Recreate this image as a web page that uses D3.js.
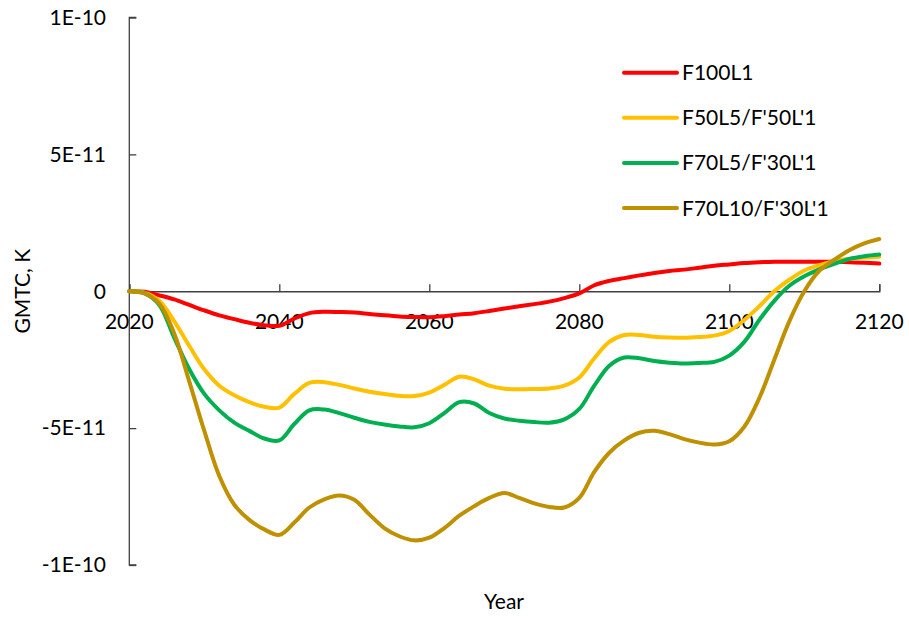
<!DOCTYPE html>
<html><head><meta charset="utf-8">
<script src="https://cdn.jsdelivr.net/npm/d3@7"></script>
<style>body{margin:0;background:#fff}svg{display:block}text{font-family:Lato,"Liberation Sans",sans-serif;fill:#000}</style>
</head><body><svg id="c" width="909" height="617"></svg>
<script>
const years = [2020,2022,2024,2026,2028,2030,2032,2034,2036,2038,2040,2042,2044,2046,2048,2050,2052,2054,2056,2058,2060,2062,2064,2066,2068,2070,2072,2074,2076,2078,2080,2082,2084,2086,2088,2090,2092,2094,2096,2098,2100,2102,2104,2106,2108,2110,2112,2114,2116,2118,2120];
// values in units of 1E-11 K
const f100l1 = [0,-0.02,-0.15,-0.3,-0.5,-0.7,-0.88,-1.02,-1.15,-1.24,-1.26,-1.0,-0.8,-0.75,-0.76,-0.78,-0.83,-0.88,-0.92,-0.94,-0.95,-0.91,-0.85,-0.8,-0.72,-0.63,-0.55,-0.47,-0.38,-0.25,-0.08,0.22,0.38,0.48,0.58,0.67,0.74,0.79,0.86,0.93,0.98,1.03,1.06,1.08,1.08,1.08,1.08,1.08,1.06,1.04,1.01];
const f50l5 = [0,-0.05,-0.35,-1.1,-2.0,-2.85,-3.45,-3.8,-4.05,-4.22,-4.25,-3.75,-3.35,-3.32,-3.42,-3.55,-3.67,-3.75,-3.82,-3.83,-3.7,-3.42,-3.12,-3.22,-3.45,-3.56,-3.58,-3.57,-3.55,-3.45,-3.15,-2.45,-1.85,-1.6,-1.6,-1.66,-1.69,-1.70,-1.67,-1.62,-1.45,-1.05,-0.55,0.0,0.42,0.76,0.95,1.10,1.18,1.23,1.26];
const f70l5 = [0,-0.07,-0.5,-1.7,-2.85,-3.75,-4.35,-4.8,-5.1,-5.38,-5.45,-4.85,-4.35,-4.32,-4.45,-4.62,-4.77,-4.87,-4.94,-4.97,-4.82,-4.45,-4.05,-4.1,-4.45,-4.65,-4.73,-4.78,-4.8,-4.68,-4.3,-3.45,-2.72,-2.42,-2.45,-2.55,-2.61,-2.64,-2.62,-2.58,-2.35,-1.85,-1.05,-0.35,0.2,0.55,0.8,1.0,1.18,1.28,1.34];
const f70l10 = [0,-0.08,-0.45,-1.55,-3.3,-5.1,-6.75,-7.8,-8.35,-8.7,-8.9,-8.45,-7.9,-7.6,-7.46,-7.62,-8.15,-8.65,-8.95,-9.1,-9.0,-8.65,-8.2,-7.85,-7.55,-7.37,-7.55,-7.75,-7.88,-7.9,-7.55,-6.6,-5.9,-5.45,-5.17,-5.1,-5.22,-5.4,-5.53,-5.6,-5.48,-4.95,-3.9,-2.5,-1.1,0.0,0.75,1.15,1.5,1.75,1.91];
const seriesNames = ["F100L1","F50L5/F'50L'1","F70L5/F'30L'1","F70L10/F'30L'1"];
const seriesColors = ["#FF0000","#FFC000","#00B050","#BF9000"];
const xTicks = [2020,2040,2060,2080,2100,2120];
const yTicks = [1e-10,5e-11,0,-5e-11,-1e-10];
const yTickLabels = ["1E-10","5E-11","0","-5E-11","-1E-10"];

const svg = d3.select("#c");
const x = d3.scaleLinear().domain([2020,2120]).range([129.3,879.3]);
const y = d3.scaleLinear().domain([-1e-10,1e-10]).range([565,17.5]);
const axisColor = "#404040";

// y axis
const ya = svg.append("g").attr("transform",`translate(${x(2020)},0)`)
  .call(d3.axisRight(y).tickValues(yTicks).tickSize(7).tickFormat(""));
ya.select(".domain").attr("stroke",axisColor).attr("stroke-width",1.3).attr("d",`M7,${y(1e-10)}H0V${y(-1e-10)}H7`);
ya.selectAll(".tick line").attr("stroke",axisColor).attr("stroke-width",1.3);
svg.append("g").selectAll("text").data(yTicks).join("text")
  .attr("x",106).attr("y",d=>y(d)).attr("dy","0.35em").attr("text-anchor","end")
  .attr("font-size",21).text((d,i)=>yTickLabels[i]);

// x axis at y=0
const xa = svg.append("g").attr("transform",`translate(0,${y(0)})`)
  .call(d3.axisTop(x).tickValues(xTicks).tickSize(7).tickFormat(""));
xa.select(".domain").attr("stroke",axisColor).attr("stroke-width",1.3);
xa.selectAll(".tick line").attr("stroke",axisColor).attr("stroke-width",1.3);
svg.append("g").selectAll("text").data(xTicks).join("text")
  .attr("x",d=>x(d)).attr("y",y(0)+38).attr("text-anchor","middle")
  .attr("font-size",21).text(d=>d);

// axis titles
svg.append("text").attr("transform",`translate(30,${y(0)}) rotate(-90)`).attr("text-anchor","middle")
  .attr("font-size",21).text("GMTC, K");
svg.append("text").attr("x",504).attr("y",609).attr("text-anchor","middle").attr("font-size",21).text("Year");

// lines
const allSeries = [f100l1,f50l5,f70l5,f70l10];
const line = d3.line().x((d,i)=>x(years[i])).y(d=>y(d*1e-11)).curve(d3.curveCatmullRom.alpha(0.5));
svg.append("g").selectAll("path").data(allSeries).join("path")
  .attr("d",line).attr("fill","none").attr("stroke",(d,i)=>seriesColors[i])
  .attr("stroke-width",4).attr("stroke-linejoin","round").attr("stroke-linecap","round");

// legend
const lg = svg.append("g").selectAll("g").data(seriesNames).join("g")
  .attr("transform",(d,i)=>`translate(624,${72.7+i*45.1})`);
lg.append("line").attr("x1",0).attr("x2",53).attr("stroke",(d,i)=>seriesColors[i]).attr("stroke-width",4).attr("stroke-linecap","round");
lg.append("text").attr("x",58).attr("dy","0.36em").attr("font-size",21).text(d=>d);
</script></body></html>
